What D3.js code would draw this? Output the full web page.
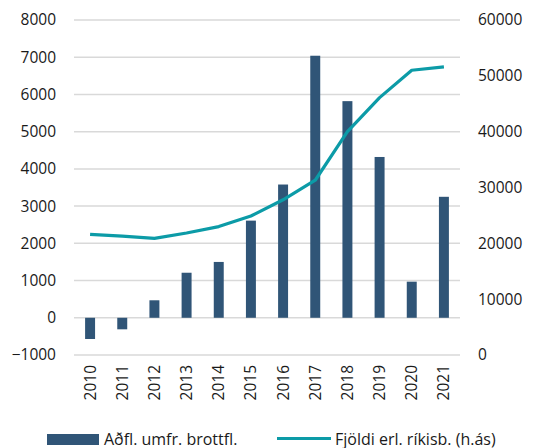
<!DOCTYPE html>
<html>
<head>
<meta charset="utf-8">
<script src="https://cdn.jsdelivr.net/npm/d3@7"></script>
<style>
  body { margin: 0; background: #fff; }
  text { font-family: "Open Sans", sans-serif; fill: #1a1a1a; }
</style>
</head>
<body>
<div id="chart"></div>
<script>
// years on the x axis
var years = ['2010', '2011', '2012', '2013', '2014', '2015',
  '2016', '2017', '2018', '2019', '2020', '2021'];

// bars, left axis
var netMigration = [-570, -310, 470, 1210, 1500, 2610, 3580, 7040, 5820, 4320, 970, 3250];

// line, right axis
var foreignCitizens = [21600, 21300, 20900, 21850, 23000, 24900, 27800, 31300, 40000, 46100, 51000, 51600];

var leftTicks = [-1000, 0, 1000, 2000, 3000, 4000, 5000, 6000, 7000, 8000];
var rightTicks = [0, 10000, 20000, 30000, 40000, 50000, 60000];

var seriesNames = ['Aðfl. umfr. brottfl.', 'Fjöldi erl. ríkisb. (h.ás)'];

var W = 539, H = 448;
var margin = { top: 20, right: 79, bottom: 93, left: 74 },
  width = W - margin.left - margin.right,
  height = H - margin.top - margin.bottom;

var svg = d3.select('#chart').append('svg')
  .attr('width', W).attr('height', H);
var g = svg.append('g')
  .attr('transform', 'translate(' + margin.left + ',' + margin.top + ')');

var x = d3.scaleBand().domain(years).range([0, width]).paddingInner(0.69).paddingOuter(0.345);
var yL = d3.scaleLinear().domain([-1000, 8000]).range([height, 0]);
var yR = d3.scaleLinear().domain([0, 60000]).range([height, 0]);

// gridlines
g.selectAll('.grid').data(leftTicks).enter().append('line')
  .attr('x1', 0).attr('x2', width)
  .attr('y1', function (d) { return yL(d); })
  .attr('y2', function (d) { return yL(d); })
  .attr('stroke', '#d9d9d9').attr('stroke-width', 1.5);

// left axis
var axL = g.append('g').call(d3.axisLeft(yL).tickValues(leftTicks).tickSize(0).tickPadding(18).tickFormat(d3.format('d')));
axL.select('.domain').remove();
axL.selectAll('text').style('font-size', '15.5px').style('font-family', '"Open Sans", sans-serif').attr('fill', '#1a1a1a');

// right axis
var axR = g.append('g').attr('transform', 'translate(' + width + ',0)')
  .call(d3.axisRight(yR).tickValues(rightTicks).tickSize(0).tickPadding(18).tickFormat(d3.format('d')));
axR.select('.domain').remove();
axR.selectAll('text').style('font-size', '15.5px').style('font-family', '"Open Sans", sans-serif').attr('fill', '#1a1a1a');

// bars
g.selectAll('.bar').data(netMigration).enter().append('rect')
  .attr('x', function (d, i) { return x(years[i]); })
  .attr('width', x.bandwidth())
  .attr('y', function (d) { return yL(Math.max(0, d)); })
  .attr('height', function (d) { return Math.abs(yL(d) - yL(0)); })
  .attr('fill', '#305577');

// line
var line = d3.line()
  .x(function (d, i) { return x(years[i]) + x.bandwidth() / 2; })
  .y(function (d) { return yR(d); });
g.append('path').datum(foreignCitizens)
  .attr('d', line)
  .attr('fill', 'none')
  .attr('stroke', '#0c9ba7')
  .attr('stroke-width', 3.2)
  .attr('stroke-linejoin', 'round');

// year labels, rotated
g.selectAll('.year').data(years).enter().append('text')
  .attr('transform', function (d) {
    return 'translate(' + (x(d) + x.bandwidth() / 2 + 5.5) + ',' + (height + 10) + ') rotate(-90)';
  })
  .attr('text-anchor', 'end')
  .style('font-size', '15.5px')
  .text(function (d) { return d; });

// legend
var leg = svg.append('g');
leg.append('rect').attr('x', 47).attr('y', 434).attr('width', 52).attr('height', 11).attr('fill', '#305577');
leg.append('text').attr('x', 104).attr('y', 444.5).style('font-size', '16px').text(seriesNames[0]);
leg.append('line').attr('x1', 277).attr('x2', 331).attr('y1', 438.5).attr('y2', 438.5)
  .attr('stroke', '#0c9ba7').attr('stroke-width', 3.2);
leg.append('text').attr('x', 335).attr('y', 444.5).style('font-size', '16px').text(seriesNames[1]);
</script>
</body>
</html>
